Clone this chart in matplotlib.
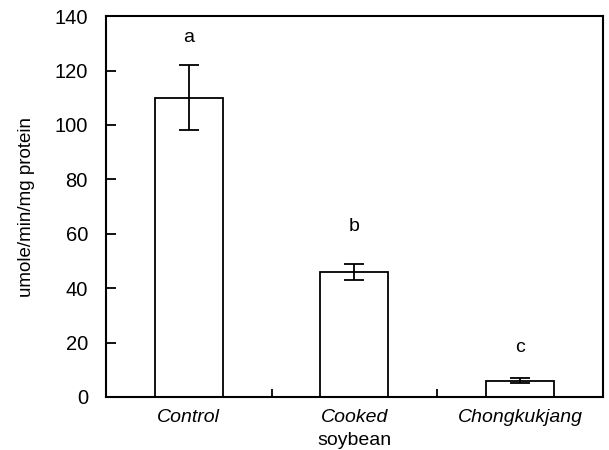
import numpy as np
import matplotlib.pyplot as plt

plt.rcParams['font.family'] = ['Liberation Sans', 'DejaVu Sans']

# data
groups = ["Control", "Cooked", "Chongkukjang"]
values = [110, 46, 6]
errors = [12, 3, 1]
letters = ["a", "b", "c"]
letter_y = [132, 62.5, 18]

fig = plt.figure(figsize=(6.09, 4.5), dpi=100)
ax = fig.add_axes([0.174, 0.118, 0.816, 0.846])

x = np.arange(len(groups))
ax.bar(x, values, width=0.41, color='white', edgecolor='black', linewidth=1.3,
       yerr=errors, capsize=7, error_kw=dict(elinewidth=1.3, capthick=1.3, ecolor='black'))

for xi, lab, ly in zip(x, letters, letter_y):
    ax.text(xi, ly, lab, ha='center', va='center', fontsize=14)

ax.set_xlim(-0.5, 2.5)
ax.set_ylim(0, 140)
ax.set_yticks(np.arange(0, 141, 20))
ax.set_xticks(x)
ax.set_xticklabels(groups, fontsize=14, style='italic')
ax.set_xticks([0.5, 1.5], minor=True)
ax.tick_params(axis='x', which='major', length=0, pad=9)
ax.tick_params(axis='x', which='minor', direction='in', length=6, width=1.3)
ax.tick_params(axis='y', direction='in', length=7, width=1.3, labelsize=14.5, pad=13)
for s in ax.spines.values():
    s.set_linewidth(1.5)

# second line of the middle label is upright in the original
ax.annotate("soybean", xy=(x[1], 0), xycoords=('data', 'axes fraction'),
            xytext=(0, -25.5), textcoords='offset points',
            ha='center', va='top', fontsize=14)

ax.set_ylabel("umole/min/mg protein", fontsize=13.5, labelpad=14)

fig.savefig("out.png", dpi=100)
